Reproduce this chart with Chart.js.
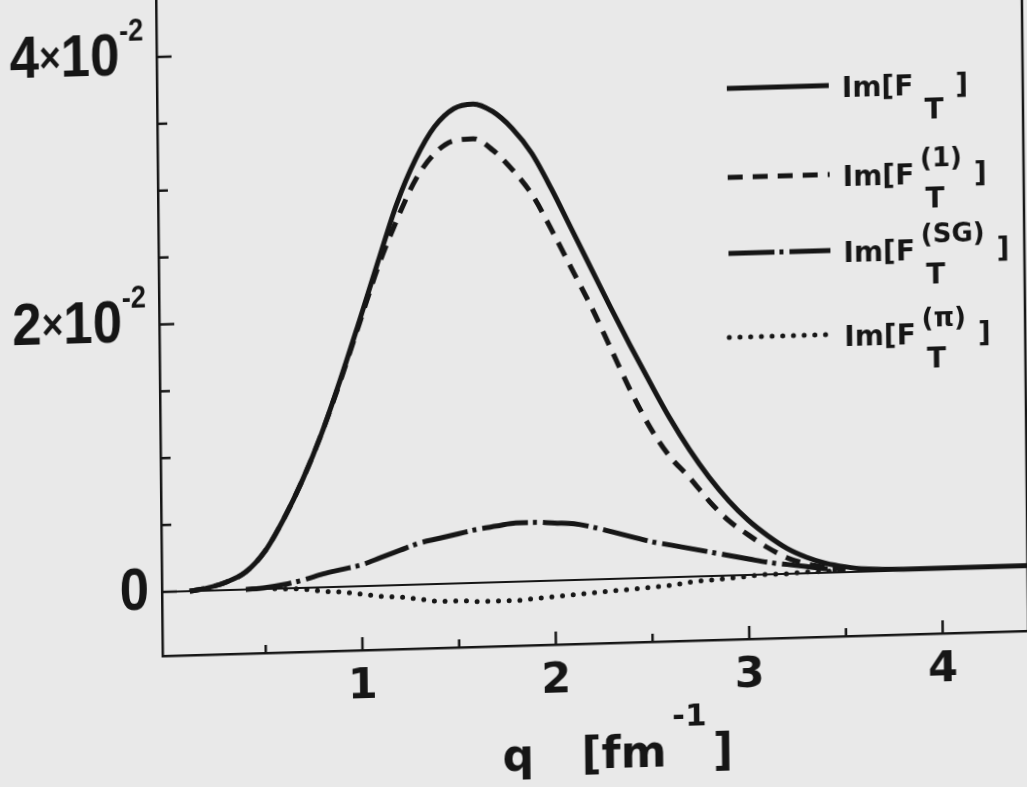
<!DOCTYPE html>
<html>
<head>
<meta charset="utf-8">
<script src="https://cdn.jsdelivr.net/npm/chart.js@4.4.1/dist/chart.umd.min.js"></script>
<style>
    html, body { margin: 0; padding: 0; background: #e9e9e9; overflow: hidden; }
    /* the scanned figure is slightly skewed, so the whole drawing is too */
    #wrap {
        position: absolute; left: 0; top: 0; width: 1040px; height: 810px;
        transform-origin: 162px 592px;
        transform: matrix(1, -0.029, 0.01, 1, 0, 0);
    }
</style>
</head>
<body>
<div id="wrap"><canvas id="formFactor" width="1040" height="810"></canvas></div>
<script>
// q in fm^-1, Im[F] values
const qTotal = [0.11, 0.2, 0.3, 0.4, 0.5, 0.6, 0.7, 0.8, 0.9, 1.0, 1.1, 1.2, 1.3, 1.4, 1.5, 1.6, 1.7, 1.8, 1.9, 2.0,
    2.1, 2.2, 2.3, 2.4, 2.5, 2.6, 2.7, 2.8, 2.9, 3.0, 3.1, 3.2, 3.3, 3.4, 3.5, 3.6, 3.8, 4.0, 4.2, 4.45];
const imTotal = [0, 0.0002, 0.0006, 0.0013, 0.0028, 0.0052, 0.0081, 0.0115, 0.0155, 0.0198,
    0.0242, 0.0285, 0.0318, 0.0342, 0.0355, 0.0358, 0.0352, 0.0339, 0.0320, 0.0293,
    0.0263, 0.0233, 0.0203, 0.0174, 0.0146, 0.0119, 0.0095, 0.0074, 0.0056, 0.0041,
    0.0029, 0.0019, 0.0012, 0.0007, 0.0004, 0.0002, 0.0001, 0.0001, 0.0001, 0.0001];

const qOne = [0.11, 0.2, 0.3, 0.4, 0.5, 0.6, 0.7, 0.8, 0.9, 1.0, 1.1, 1.2, 1.3, 1.4, 1.5, 1.6, 1.7, 1.8, 1.9, 2.0,
    2.1, 2.2, 2.3, 2.4, 2.5, 2.6, 2.7, 2.8, 2.9, 3.0, 3.1, 3.2, 3.3, 3.4, 3.5];
const imOne = [0, 0.0002, 0.0006, 0.0013, 0.0028, 0.0052, 0.0081, 0.0115, 0.0154, 0.0196,
    0.0238, 0.0273, 0.0303, 0.0322, 0.0331, 0.0332, 0.0323, 0.0308, 0.0289, 0.0262,
    0.0233, 0.0204, 0.0172, 0.0140, 0.0112, 0.0090, 0.0074, 0.0056, 0.0041, 0.0030,
    0.0020, 0.0012, 0.0007, 0.0004, 0.0002];

const qSG = [0.4, 0.5, 0.6, 0.7, 0.8, 0.9, 1.0, 1.1, 1.2, 1.3, 1.4, 1.5, 1.6, 1.7, 1.8, 1.9, 2.0, 2.1, 2.2, 2.3,
    2.4, 2.5, 2.6, 2.7, 2.8, 2.9, 3.0, 3.1, 3.2, 3.3, 3.4, 3.5];
const imSG = [0, 0.0001, 0.0003, 0.0006, 0.0010, 0.0013, 0.0016, 0.0021, 0.0026, 0.0031,
    0.0034, 0.0037, 0.0040, 0.0042, 0.0044, 0.0044, 0.0043, 0.0042, 0.0039, 0.0035,
    0.0031, 0.0027, 0.0024, 0.0021, 0.0018, 0.0015, 0.0012, 0.0009, 0.0007, 0.0005,
    0.0003, 0.0002];

const qPi = [0.55, 0.7, 0.8, 0.9, 1.0, 1.1, 1.2, 1.3, 1.4, 1.5, 1.6, 1.7, 1.8, 1.9, 2.0, 2.1, 2.2, 2.3, 2.4, 2.5,
    2.6, 2.7, 2.8, 2.9, 3.0, 3.1, 3.2, 3.3, 3.4, 3.5];
const imPi = [0, -0.0001, -0.0003, -0.0004, -0.0006, -0.0008, -0.0009, -0.0011, -0.0013, -0.0013,
    -0.0014, -0.0014, -0.0014, -0.0013, -0.0012, -0.0011, -0.0010, -0.0009, -0.0008, -0.0007,
    -0.0006, -0.0004, -0.0003, -0.0002, -0.0001, 0, 0, 0.0001, 0.0001, 0.0002];

// axes
const xTickValues = [0.5, 1, 1.5, 2, 2.5, 3, 3.5, 4];
const xLabelValues = [1, 2, 3, 4];
const yTickValues = [0, 0.005, 0.01, 0.015, 0.02, 0.025, 0.03, 0.035, 0.04];
const yLabelValues = [0, 0.02, 0.04];
const yLabelMant = ['0', '2', '4'];
const yLabelExp = ['', '-2', '-2'];

// legend: Im[F_T^(sup)]
const legendSup = ['', '(1)', '(SG)', '(\u03c0)'];

const ink = '#161616';
const face = "'DejaVu Sans', sans-serif";
const yFace = "'Liberation Sans', 'DejaVu Sans', sans-serif";

const points = (qs, vs) => qs.map((q, i) => ({ x: q, y: vs[i] }));
const near = (a, b) => Math.abs(a - b) < 1e-9;

const paperPlugin = {
    id: 'paper',
    afterDraw(chart) {
        const { ctx, chartArea: area, scales: { x, y } } = chart;
        ctx.save();
        ctx.strokeStyle = ink;
        ctx.fillStyle = ink;
        ctx.lineWidth = 2.5;
        ctx.setLineDash([]);

        // tick marks point inwards
        x.ticks.forEach(t => {
            const px = x.getPixelForValue(t.value);
            const len = xLabelValues.some(v => near(v, t.value)) ? 13 : 8;
            ctx.beginPath();
            ctx.moveTo(px, area.bottom);
            ctx.lineTo(px, area.bottom - len);
            ctx.stroke();
        });
        y.ticks.forEach(t => {
            const py = y.getPixelForValue(t.value);
            const len = yLabelValues.some(v => near(v, t.value)) ? 15 : 10;
            ctx.beginPath();
            ctx.moveTo(area.left, py);
            ctx.lineTo(area.left + len, py);
            ctx.stroke();
        });

        // right frame
        ctx.beginPath();
        ctx.moveTo(area.right, area.top);
        ctx.lineTo(area.right, area.bottom);
        ctx.stroke();

        // y labels  a x 10^-2
        ctx.textBaseline = 'middle';
        ctx.textAlign = 'left';
        yLabelValues.forEach((v, i) => {
            const py = y.getPixelForValue(v);
            const parts = [[yLabelMant[i], 'bold 60px ' + yFace, 0]];
            if (yLabelExp[i]) {
                parts.push(['\u00d7', 'bold 42px ' + yFace, 0]);
                parts.push(['10', 'bold 60px ' + yFace, 0]);
                parts.push([yLabelExp[i], 'bold 31px ' + yFace, -26]);
            }
            const sx = 0.88;
            let w = 0;
            parts.forEach(p => { ctx.font = p[1]; w += ctx.measureText(p[0]).width; });
            let cx = (area.left - 13) / sx - w;
            ctx.save();
            ctx.scale(sx, 1);
            parts.forEach(p => {
                ctx.font = p[1];
                ctx.fillText(p[0], cx, py + p[2]);
                cx += ctx.measureText(p[0]).width;
            });
            ctx.restore();
        });

        // x title  q [fm^-1]
        ctx.textBaseline = 'alphabetic';
        ctx.font = 'bold 44px ' + face;
        const base = 781;
        ctx.fillText('q', 501, base);
        ctx.fillText('[fm', 580, base);
        let tx = 580 + ctx.measureText('[fm').width + 6;
        ctx.font = 'bold 31px ' + face;
        ctx.fillText('-1', tx, base - 40);
        tx += ctx.measureText('-1').width + 6;
        ctx.font = 'bold 44px ' + face;
        ctx.fillText(']', tx, base);

        // legend
        const rowY = [105, 194, 270, 354];
        legendSup.forEach((sup, i) => {
            const ds = chart.data.datasets[i];
            const cy = rowY[i];
            ctx.save();
            ctx.lineWidth = ds.borderWidth;
            ctx.setLineDash(ds.borderDash || []);
            ctx.lineCap = ds.borderCapStyle || 'butt';
            ctx.beginPath();
            ctx.moveTo(732, cy);
            ctx.lineTo(834, cy);
            ctx.stroke();
            ctx.restore();

            const bl = cy + 12;
            ctx.font = 'bold 28px ' + face;
            ctx.fillText('Im[F', 847, bl);
            const fx = 847 + ctx.measureText('Im[F').width;
            ctx.fillText('T', fx + 11, bl + 24);
            let end = fx + 11 + ctx.measureText('T').width;
            if (sup) {
                ctx.font = 'bold 26px ' + face;
                ctx.fillText(sup, fx + 6, bl - 17);
                end = Math.max(end, fx + 6 + ctx.measureText(sup).width);
                ctx.font = 'bold 28px ' + face;
            }
            ctx.fillText(']', end + 12, bl);
        });
        ctx.restore();
    }
};

const data = {
    datasets: [{
        label: 'Im[F_T]',
        data: points(qTotal, imTotal),
        borderColor: ink,
        borderWidth: 5
    }, {
        label: 'Im[F_T^(1)]',
        data: points(qOne, imOne),
        borderColor: ink,
        borderWidth: 5,
        borderDash: [15, 10]
    }, {
        label: 'Im[F_T^(SG)]',
        data: points(qSG, imSG),
        borderColor: ink,
        borderWidth: 5,
        borderDash: [46, 5, 4, 6]
    }, {
        label: 'Im[F_T^(pi)]',
        data: points(qPi, imPi),
        borderColor: ink,
        borderWidth: 5,
        borderDash: [0, 10.7],
        borderCapStyle: 'round'
    }]
};

const config = {
    type: 'line',
    data: data,
    options: {
        responsive: false,
        animation: false,
        layout: { padding: { left: 0, top: 0, right: 12, bottom: 0 } },
        elements: {
            point: { radius: 0 },
            line: { cubicInterpolationMode: 'monotone', fill: false }
        },
        plugins: {
            legend: { display: false },
            tooltip: { enabled: false }
        },
        scales: {
            x: {
                type: 'linear',
                min: -0.0336,
                max: 4.442,
                afterBuildTicks: axis => { axis.ticks = xTickValues.map(v => ({ value: v })); },
                afterFit: scale => { scale.height = 154; },
                grid: { drawOnChartArea: false, drawTicks: false },
                border: { display: true, color: ink, width: 2.5 },
                ticks: {
                    autoSkip: false,
                    maxRotation: 0,
                    padding: 11,
                    color: ink,
                    font: { family: face, size: 43, weight: 'bold' },
                    callback: v => xLabelValues.some(l => near(l, v)) ? String(v) : ''
                }
            },
            y: {
                type: 'linear',
                min: -0.004785,
                max: 0.044262,
                afterBuildTicks: axis => { axis.ticks = yTickValues.map(v => ({ value: v })); },
                afterFit: scale => { scale.width = 162; },
                grid: {
                    drawTicks: false,
                    lineWidth: 2,
                    color: c => (c.tick && near(c.tick.value, 0)) ? ink : 'rgba(0,0,0,0)'
                },
                border: { display: true, color: ink, width: 2.5 },
                ticks: { display: false }
            }
        }
    },
    plugins: [paperPlugin]
};

const chartFormFactor = new Chart(
    document.getElementById('formFactor'),
    config
);
</script>
</body>
</html>
